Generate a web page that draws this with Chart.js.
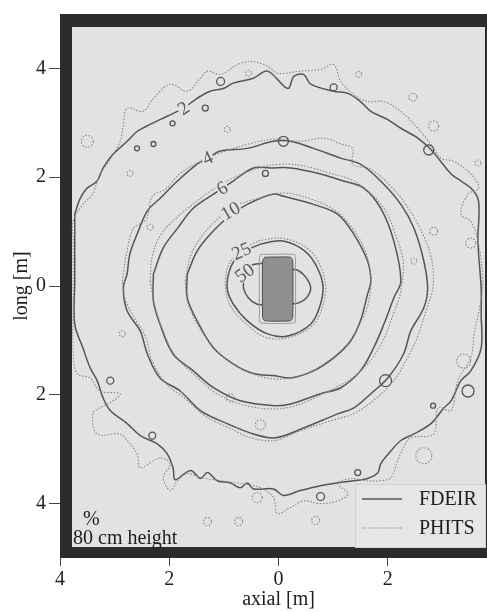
<!DOCTYPE html>
<html>
<head>
<meta charset="utf-8">
<script src="https://cdn.jsdelivr.net/npm/chart.js@4/dist/chart.umd.min.js"></script>
<style>
html,body{margin:0;padding:0;background:#fff;overflow:hidden;width:487px;height:612px;}
#wrap{position:absolute;left:0;top:0;width:497px;height:612px;}
</style>
</head>
<body>
<div id="wrap"><canvas id="c" width="497" height="612"></canvas></div>
<script>
// ---------- data (metres) ----------
const xTicks = [-4, -2, 0, 2];
const yTicks = [-4, -2, 0, 2, 4];

const fdeir2 = [[-3.73,1.32],[-3.63,1.61],[-3.50,1.80],[-3.32,1.93],[-3.21,2.17],[-3.03,2.42],[-2.77,2.66],[-2.59,2.84],[-2.35,2.97],[-2.04,3.12],[-1.74,3.27],[-1.49,3.45],[-1.25,3.58],[-1.01,3.63],[-0.83,3.73],[-0.46,3.82],[-0.20,3.95],[0.17,3.63],[0.28,3.85],[0.46,3.89],[0.59,3.71],[1.01,3.58],[1.27,3.54],[1.50,3.39],[1.69,3.21],[2.00,3.06],[2.24,2.90],[2.55,2.72],[2.79,2.51],[2.97,2.29],[3.16,2.06],[3.34,1.93],[3.52,1.80],[3.65,1.61],[3.67,1.32],[3.65,0.83],[3.71,-0.04],[3.71,-0.51],[3.71,-1.14],[3.52,-1.56],[3.34,-1.74],[3.16,-2.11],[3.03,-2.24],[2.79,-2.53],[2.48,-2.72],[2.24,-2.84],[2.06,-3.03],[1.87,-3.27],[1.82,-3.43],[1.63,-3.54],[1.38,-3.58],[1.01,-3.63],[0.77,-3.67],[0.40,-3.76],[0.09,-3.85],[-0.09,-3.73],[-0.46,-3.73],[-0.57,-3.62],[-0.70,-3.71],[-0.88,-3.62],[-1.12,-3.58],[-1.30,-3.43],[-1.43,-3.54],[-1.61,-3.39],[-1.89,-3.56],[-1.93,-3.34],[-2.04,-3.08],[-2.22,-2.90],[-2.53,-2.75],[-2.77,-2.53],[-3.08,-2.29],[-3.21,-2.06],[-3.32,-1.74],[-3.45,-1.50],[-3.58,-1.14],[-3.73,-0.70],[-3.73,0.09],[-3.73,0.83],[-3.73,1.32]];
const fdeir4 = [[-2.77,0.22],[-2.72,0.59],[-2.59,0.95],[-2.40,1.38],[-2.17,1.61],[-1.85,1.93],[-1.49,2.24],[-1.30,2.35],[-1.06,2.48],[-0.57,2.53],[-0.09,2.66],[0.22,2.66],[0.64,2.53],[1.14,2.35],[1.50,2.24],[1.87,1.93],[2.24,1.50],[2.48,1.06],[2.66,0.46],[2.73,-0.04],[2.66,-0.40],[2.42,-0.83],[2.29,-1.25],[2.00,-1.69],[1.69,-1.98],[1.38,-2.24],[1.08,-2.35],[0.46,-2.61],[-0.06,-2.79],[-0.46,-2.72],[-0.94,-2.53],[-1.43,-2.29],[-1.80,-1.93],[-2.17,-1.69],[-2.40,-1.25],[-2.53,-0.83],[-2.77,-0.46],[-2.84,-0.04],[-2.77,0.22]];
const fdeir6 = [[-2.29,0.22],[-2.29,-0.28],[-2.17,-0.70],[-1.93,-1.25],[-1.56,-1.56],[-1.19,-1.87],[-0.70,-2.11],[-0.06,-2.20],[0.22,-2.17],[0.77,-1.98],[1.14,-1.87],[1.50,-1.56],[1.74,-1.14],[1.93,-0.70],[2.11,-0.22],[2.24,0.09],[2.11,0.83],[1.87,1.43],[1.56,1.80],[1.19,1.93],[0.77,2.06],[0.22,2.17],[-0.15,2.17],[-0.46,2.17],[-0.83,1.93],[-1.19,1.69],[-1.56,1.43],[-1.85,1.06],[-2.11,0.70],[-2.29,0.22]];
const fdeir10 = [[-1.67,0.22],[-1.67,-0.22],[-1.49,-0.64],[-1.19,-1.14],[-0.83,-1.43],[-0.46,-1.61],[-0.06,-1.65],[0.22,-1.69],[0.64,-1.56],[1.01,-1.32],[1.32,-1.01],[1.50,-0.64],[1.63,-0.15],[1.69,0.09],[1.63,0.46],[1.38,0.95],[1.08,1.32],[0.64,1.50],[0.09,1.65],[-0.09,1.69],[-0.57,1.50],[-0.94,1.25],[-1.25,0.95],[-1.49,0.64],[-1.67,0.22]];
const fdeir25 = [[-0.33,0.77],[0.04,0.83],[0.40,0.70],[0.64,0.46],[0.81,0.04],[0.77,-0.33],[0.59,-0.70],[0.17,-0.92],[-0.20,-0.88],[-0.57,-0.64],[-0.83,-0.33],[-0.94,-0.04],[-0.88,0.33],[-0.70,0.59],[-0.33,0.77]];
const fdeir50L = [[-0.28,0.42],[-0.51,0.37],[-0.62,0.18],[-0.64,-0.04],[-0.55,-0.22],[-0.40,-0.33],[-0.28,-0.35]];
const fdeir50R = [[0.24,0.31],[0.37,0.28],[0.51,0.15],[0.59,-0.04],[0.51,-0.22],[0.37,-0.31],[0.24,-0.33]];

const phits2 = [[-3.76,-0.28],[-3.76,0.83],[-3.76,1.19],[-3.58,1.50],[-3.40,1.69],[-3.27,2.06],[-3.14,2.24],[-2.90,2.66],[-2.84,2.97],[-2.77,3.27],[-2.48,3.21],[-2.29,3.45],[-1.98,3.71],[-1.67,3.58],[-1.43,3.82],[-1.30,3.95],[-1.06,3.89],[-0.75,4.07],[-0.51,4.13],[-0.20,4.04],[-0.02,3.91],[0.40,3.95],[0.77,3.98],[1.01,4.07],[1.14,3.76],[1.38,3.52],[1.63,3.39],[1.93,3.39],[2.24,3.21],[2.55,2.90],[2.79,2.61],[2.97,2.35],[3.21,2.29],[3.52,2.06],[3.67,1.80],[3.47,1.69],[3.34,1.32],[3.52,1.19],[3.65,0.83],[3.74,0.09],[3.67,-0.46],[3.58,-0.88],[3.52,-1.32],[3.28,-1.74],[3.16,-2.29],[2.92,-2.24],[2.84,-2.72],[2.42,-2.79],[2.29,-2.97],[2.18,-3.21],[2.06,-3.52],[1.87,-3.58],[1.63,-3.58],[1.32,-3.54],[1.08,-3.63],[1.27,-3.82],[1.08,-3.95],[0.77,-4.00],[0.46,-3.95],[0.22,-4.07],[-0.02,-4.18],[-0.09,-3.89],[-0.33,-3.71],[-0.70,-3.63],[-1.06,-3.58],[-1.43,-3.52],[-1.67,-3.45],[-1.85,-3.58],[-1.98,-3.76],[-2.11,-3.52],[-1.98,-3.27],[-2.17,-3.16],[-2.53,-3.34],[-2.59,-3.08],[-2.77,-2.84],[-2.90,-2.72],[-3.32,-2.72],[-3.40,-2.35],[-3.27,-2.24],[-3.03,-2.11],[-2.90,-1.98],[-3.27,-1.93],[-3.45,-1.69],[-3.69,-1.61],[-3.76,-1.14],[-3.76,-0.28]];
const phits4 = [[-2.86,0.09],[-2.79,0.55],[-2.66,1.05],[-2.42,1.23],[-2.31,1.65],[-2.07,1.78],[-1.80,2.07],[-1.43,2.29],[-0.97,2.48],[-0.51,2.62],[-0.06,2.70],[0.40,2.66],[0.83,2.72],[1.14,2.61],[1.36,2.53],[1.36,2.24],[1.69,2.15],[2.06,1.83],[2.33,1.50],[2.57,1.10],[2.79,0.55],[2.83,0.00],[2.70,-0.46],[2.55,-0.92],[2.33,-1.38],[2.11,-1.74],[1.78,-2.07],[1.41,-2.33],[0.95,-2.48],[0.40,-2.66],[-0.06,-2.84],[-0.51,-2.79],[-0.88,-2.62],[-1.34,-2.39],[-1.71,-2.07],[-2.07,-1.78],[-2.31,-1.38],[-2.44,-0.92],[-2.66,-0.55],[-2.81,-0.24],[-2.86,0.09]];
const phits6 = [[-2.35,0.09],[-2.31,0.55],[-2.17,0.92],[-1.94,1.19],[-1.61,1.47],[-1.25,1.74],[-0.88,1.96],[-0.42,2.15],[0.04,2.24],[0.50,2.20],[0.95,2.07],[1.32,1.96],[1.65,1.74],[1.96,1.38],[2.15,0.92],[2.28,0.46],[2.24,-0.09],[2.09,-0.55],[1.91,-1.01],[1.65,-1.41],[1.32,-1.71],[0.86,-1.96],[0.31,-2.20],[-0.15,-2.26],[-0.70,-2.17],[-1.16,-1.96],[-1.52,-1.65],[-1.89,-1.28],[-2.11,-0.83],[-2.26,-0.37],[-2.35,0.09]];
const phits10 = [[-1.71,0.09],[-1.61,0.55],[-1.43,0.88],[-1.16,1.19],[-0.79,1.47],[-0.37,1.61],[0.09,1.71],[0.59,1.60],[1.05,1.38],[1.36,1.05],[1.60,0.61],[1.69,0.09],[1.63,-0.37],[1.47,-0.73],[1.23,-1.10],[0.86,-1.41],[0.40,-1.65],[-0.06,-1.71],[-0.51,-1.60],[-0.92,-1.38],[-1.25,-1.05],[-1.52,-0.64],[-1.67,-0.28],[-1.71,0.09]];
const phits25 = [[-0.37,0.83],[0.04,0.88],[0.44,0.75],[0.70,0.50],[0.86,0.04],[0.81,-0.37],[0.62,-0.73],[0.18,-0.95],[-0.24,-0.94],[-0.61,-0.68],[-0.88,-0.37],[-0.97,-0.04],[-0.92,0.37],[-0.70,0.64],[-0.37,0.83]];
const phitsBox = [[-0.33,0.58],[0.29,0.58],[0.31,0.50],[0.31,-0.60],[0.29,-0.68],[-0.33,-0.68],[-0.35,-0.60],[-0.35,0.50],[-0.33,0.58]];

// high-dose core levels (filled)
const core1 = [[-0.25,0.53],[0.22,0.53],[0.26,0.47],[0.26,-0.58],[0.22,-0.64],[-0.25,-0.64],[-0.29,-0.58],[-0.29,0.47],[-0.25,0.53]];
const core2 = [[-0.22,0.46],[0.19,0.46],[0.21,0.40],[0.19,-0.05],[0.21,-0.52],[0.19,-0.57],[-0.22,-0.57],[-0.24,-0.52],[-0.22,-0.05],[-0.24,0.40],[-0.22,0.46]];
const core3 = [[-0.18,0.38],[0.15,0.38],[0.16,0.30],[0.14,-0.05],[0.16,-0.42],[0.15,-0.48],[-0.18,-0.48],[-0.19,-0.42],[-0.17,-0.05],[-0.19,0.30],[-0.18,0.38]];
const core4 = [[-0.15,0.26],[0.11,0.26],[0.11,-0.28],[-0.15,-0.28],[-0.15,0.26]];

const fdeirIslands = [[-1.34,3.27],[-1.94,2.99],[-2.59,2.53],[-2.29,2.61],[1.01,3.65],[0.09,2.66],[2.75,2.50],[-1.06,3.76],[-0.24,2.07],[1.96,-1.74],[3.47,-1.93],[-2.31,-2.75],[-3.08,-1.74],[1.45,-3.43],[0.77,-3.87],[2.83,-2.20]];
const fdeirIslandR = [3,2.5,2.5,2.5,3.5,5,5,4,3,6,6,3.5,3.5,3,4,2.5];
const phitsIslands = [[-3.50,2.66],[-0.94,2.88],[-2.72,2.07],[-2.35,1.08],[-0.55,3.91],[1.47,3.89],[2.46,3.47],[2.84,2.94],[3.65,2.26],[2.84,1.01],[2.48,0.46],[3.52,0.79],[-1.30,-4.33],[-0.73,-4.33],[0.68,-4.31],[-0.39,-3.89],[2.66,-3.12],[-0.33,-2.55],[-0.88,-2.06],[3.39,-1.38],[-2.86,-0.88]];
const phitsIslandR = [6,3,3,3,3,3,4,5,3,4,3,5,4,4,4,5,8,5,4,7,3];

const contourLabels = ['2','4','6','10','25','50'];
const contourLabelX = [-1.74,-1.30,-1.03,-0.88,-0.68,-0.62];
const contourLabelY = [3.27,2.35,1.80,1.38,0.64,0.24];
const contourLabelRot = [-35,-25,-30,-30,-25,-35];

const seriesNames = ['FDEIR','PHITS'];

// ---------- styles ----------
const SOLID = '#555555', DOT = '#8a8a8a';
const FRAME = '#2c2c2c', INNER = '#e2e2e2';
const SERIF = '"Liberation Serif", "DejaVu Serif", serif';
const pts = a => a.map(p => ({x: p[0], y: p[1]}));

function lineDs(arr, series) {
  return {
    label: series, data: pts(arr), showLine: true, fill: false,
    borderColor: series === 'FDEIR' ? SOLID : DOT,
    borderWidth: series === 'FDEIR' ? 1.5 : 1.1,
    borderDash: series === 'FDEIR' ? [] : [1.6, 1.6],
    pointRadius: 0, tension: 0.35, series: series
  };
}
function coreDs(arr, fillCol, lineCol) {
  return {label: 'core', data: pts(arr), showLine: true, fill: 'shape',
    backgroundColor: fillCol, borderColor: lineCol, borderWidth: 1,
    pointRadius: 0, tension: 0.2};
}
function islandDs(arr, radii, series) {
  return {label: series + ' islands', data: pts(arr), showLine: false,
    pointRadius: radii, pointHoverRadius: radii,
    pointBackgroundColor: 'rgba(0,0,0,0)',
    pointBorderColor: series === 'FDEIR' ? SOLID : DOT,
    pointBorderWidth: series === 'FDEIR' ? 1.3 : 1.1, dotted: series !== 'FDEIR'};
}

const datasets = [
  coreDs(phitsBox, 'rgba(0,0,0,0)', '#9a9a9a'),
  coreDs(core1, '#8f8f8f', '#4e4e4e'),
  coreDs(core2, '#747474', '#666666'),
  coreDs(core3, '#868686', '#777777'),
  coreDs(core4, '#adadad', '#9a9a9a'),
  lineDs(phits2,'PHITS'), lineDs(phits4,'PHITS'), lineDs(phits6,'PHITS'), lineDs(phits10,'PHITS'), lineDs(phits25,'PHITS'),
  lineDs(fdeir2,'FDEIR'), lineDs(fdeir4,'FDEIR'), lineDs(fdeir6,'FDEIR'), lineDs(fdeir10,'FDEIR'), lineDs(fdeir25,'FDEIR'),
  lineDs(fdeir50L,'FDEIR'), lineDs(fdeir50R,'FDEIR'),
  islandDs(phitsIslands, phitsIslandR, 'PHITS'),
  islandDs(fdeirIslands, fdeirIslandR, 'FDEIR')
];

const framePlugin = {
  id: 'frame',
  beforeDatasetsDraw(chart) {
    const {ctx, chartArea: a} = chart;
    ctx.save();
    ctx.fillStyle = FRAME;
    ctx.fillRect(a.left, a.top, a.right - a.left, a.bottom - a.top);
    ctx.fillStyle = INNER;
    ctx.fillRect(a.left + 12, a.top + 13, a.right - a.left - 24, a.bottom - a.top - 24);
    ctx.restore();
  },
  beforeDatasetDraw(chart, args) {
    if (args.meta._dataset && args.meta._dataset.dotted) chart.ctx.setLineDash([1.6, 1.6]);
  },
  afterDatasetDraw(chart) { chart.ctx.setLineDash([]); },
  afterDatasetsDraw(chart) {
    const {ctx, chartArea: a, scales: {x, y}} = chart;
    ctx.save();
    // contour labels
    ctx.font = '19px ' + SERIF;
    ctx.textAlign = 'center'; ctx.textBaseline = 'middle';
    contourLabels.forEach((t, i) => {
      const px = x.getPixelForValue(contourLabelX[i]);
      const py = y.getPixelForValue(contourLabelY[i]);
      ctx.save();
      ctx.translate(px, py);
      ctx.rotate(contourLabelRot[i] * Math.PI / 180);
      const w = ctx.measureText(t).width;
      ctx.fillStyle = INNER;
      ctx.fillRect(-w / 2 - 1, -7, w + 2, 14);
      ctx.fillStyle = '#5a5a5a';
      ctx.fillText(t, 0, 1);
      ctx.restore();
    });
    // annotation text
    ctx.fillStyle = '#1e1e1e';
    ctx.font = '20px ' + SERIF;
    ctx.textAlign = 'left'; ctx.textBaseline = 'alphabetic';
    ctx.fillText('%', a.left + 23, a.bottom - 33);
    ctx.fillText('80 cm height', a.left + 13, a.bottom - 14);
    // legend
    const lx = 355, ly = a.bottom - 74, lw = a.right - 12 - lx, lh = 63;
    ctx.fillStyle = '#e6e6e6';
    ctx.fillRect(lx, ly, lw, lh);
    ctx.strokeStyle = '#d2d2d2'; ctx.lineWidth = 1;
    ctx.strokeRect(lx + 0.5, ly + 0.5, lw, lh);
    const rows = [ly + 15, ly + 44];
    seriesNames.forEach((n, i) => {
      ctx.beginPath();
      ctx.strokeStyle = i === 0 ? SOLID : DOT;
      ctx.lineWidth = i === 0 ? 1.5 : 1.1;
      ctx.setLineDash(i === 0 ? [] : [1.6, 1.6]);
      ctx.moveTo(lx + 7, rows[i]); ctx.lineTo(lx + 47, rows[i]);
      ctx.stroke();
      ctx.setLineDash([]);
      ctx.fillStyle = '#1e1e1e';
      ctx.textBaseline = 'middle';
      ctx.fillText(n, lx + 64, rows[i] + 1);
    });
    ctx.restore();
  }
};

new Chart(document.getElementById('c'), {
  type: 'scatter',
  data: {datasets},
  options: {
    responsive: false, animation: false,
    layout: {autoPadding: false, padding: {top: 14, left: 0, right: 0, bottom: 0}},
    plugins: {legend: {display: false}, tooltip: {enabled: false}},
    scales: {
      x: {
        type: 'linear', min: -4, max: 4,
        afterBuildTicks: s => { s.ticks = xTicks.map(v => ({value: v})); },
        afterFit: s => { s.height = 54; s.paddingLeft = 0; s.paddingRight = 0; },
        ticks: {callback: v => String(Math.abs(v)), font: {family: SERIF, size: 20}, color: '#1e1e1e', padding: 2, maxRotation: 0},
        grid: {drawOnChartArea: false, tickLength: 8, color: '#444', lineWidth: 1},
        border: {display: false},
        title: {display: true, text: 'axial [m]', font: {family: SERIF, size: 20}, color: '#1e1e1e', padding: {top: -3, bottom: 0}}
      },
      y: {
        type: 'linear', min: -5, max: 5,
        afterBuildTicks: s => { s.ticks = yTicks.map(v => ({value: v})); },
        afterFit: s => { s.width = 60; s.paddingTop = 0; s.paddingBottom = 0; },
        ticks: {callback: v => String(Math.abs(v)), font: {family: SERIF, size: 20}, color: '#1e1e1e', padding: 3},
        grid: {drawOnChartArea: false, tickLength: 11, color: '#444', lineWidth: 1},
        border: {display: false},
        title: {display: true, text: 'long [m]', font: {family: SERIF, size: 20}, color: '#1e1e1e', padding: {top: 10, bottom: 0}}
      }
    }
  },
  plugins: [framePlugin]
});
</script>
</body>
</html>
